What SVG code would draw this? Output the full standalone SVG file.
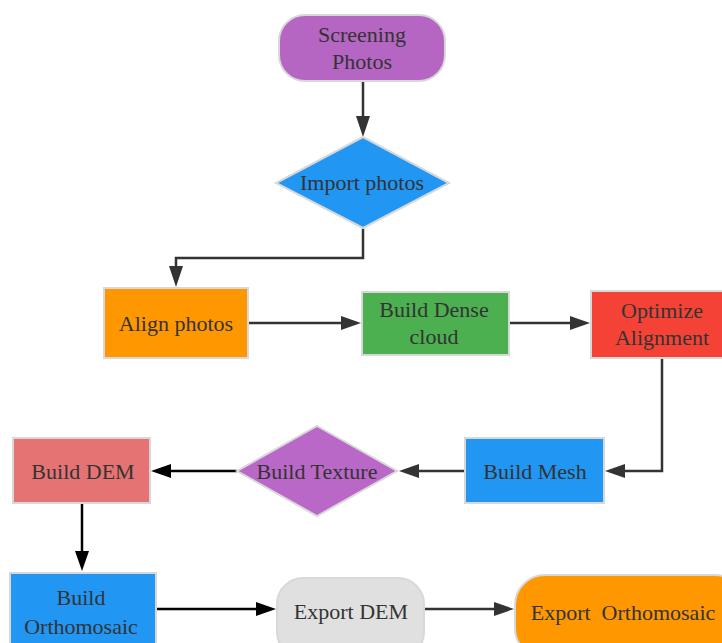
<svg xmlns="http://www.w3.org/2000/svg" width="722" height="643" viewBox="0 0 722 643">
<defs>
<style>
.n{stroke:#d8d8d8;stroke-width:2}
.t{font-size:22px;fill:#333;text-anchor:middle}
.c{fill:none;stroke:#333;stroke-width:2.5}
.k{fill:none;stroke:#000;stroke-width:2.5}
</style>
</defs>
<rect width="722" height="643" fill="#fff"/>
<g id="connectors">
<path class="c" d="M363,82V118"/>
<path class="c" d="M363,228V258H176V268"/>
<path class="c" d="M248,323H342"/>
<path class="c" d="M509,323H571"/>
<path class="c" d="M662,358V471H624"/>
<path class="c" d="M465,471H418"/>
<path class="k" d="M237,471H170"/>
<path class="k" d="M82,503V552"/>
<path class="k" d="M156,609H257"/>
<path class="c" d="M424,609H495"/>
<path d="M356,116L370,116L363,137z" fill="#333"/>
<path d="M169,266L183,266L176,287z" fill="#333"/>
<path d="M341,316L341,330L361,323z" fill="#333"/>
<path d="M570,316L570,330L590,323z" fill="#333"/>
<path d="M625,464L625,478L605,471z" fill="#333"/>
<path d="M419,464L419,478L399,471z" fill="#333"/>
<path d="M171,464L171,478L151,471z" fill="#000"/>
<path d="M75,551L89,551L82,571z" fill="#000"/>
<path d="M256,602L256,616L276,609z" fill="#000"/>
<path d="M494,602L494,616L514,609z" fill="#333"/>
</g>
<g id="screening">
<rect class="n" x="279" y="15" width="166" height="66" rx="26" fill="#B565C2"/>
<text class="t" font-family="Liberation Serif" x="362" y="42">Screening</text>
<text class="t" font-family="Liberation Serif" x="362" y="69">Photos</text>
</g>
<g id="import">
<polygon class="n" points="363,137 449,183 363,228 276,183" fill="#2196F3"/>
<text class="t" font-family="Liberation Serif" x="362" y="190">Import photos</text>
</g>
<g id="align">
<rect class="n" x="104" y="288" width="144" height="70" fill="#FF9800"/>
<text class="t" font-family="Liberation Serif" x="176" y="331">Align photos</text>
</g>
<g id="dense">
<rect class="n" x="362" y="292" width="147" height="63" fill="#4CAF50"/>
<text class="t" font-family="Liberation Serif" x="434" y="317">Build Dense</text>
<text class="t" font-family="Liberation Serif" x="434" y="344">cloud</text>
</g>
<g id="optimize">
<rect class="n" x="591" y="291" width="142" height="67" fill="#F44336"/>
<text class="t" font-family="Liberation Serif" x="662" y="318">Optimize</text>
<text class="t" font-family="Liberation Serif" x="662" y="345">Alignment</text>
</g>
<g id="mesh">
<rect class="n" x="465" y="438" width="139" height="65" fill="#2196F3"/>
<text class="t" font-family="Liberation Serif" x="535" y="479">Build Mesh</text>
</g>
<g id="texture">
<polygon class="n" points="317,426 397,471 317,516 237,471" fill="#BA68C8"/>
<text class="t" font-family="Liberation Serif" x="317" y="479">Build Texture</text>
</g>
<g id="dem">
<rect class="n" x="13" y="438" width="137" height="65" fill="#E57373"/>
<text class="t" font-family="Liberation Serif" x="83" y="479">Build DEM</text>
</g>
<g id="ortho">
<rect class="n" x="10" y="573" width="146" height="80" fill="#2196F3"/>
<text class="t" font-family="Liberation Serif" x="81" y="605">Build</text>
<text class="t" font-family="Liberation Serif" x="81" y="634">Orthomosaic</text>
</g>
<g id="exportdem">
<rect class="n" x="277" y="578" width="147" height="80" rx="26" fill="#E0E0E0"/>
<text class="t" font-family="Liberation Serif" x="351" y="619">Export DEM</text>
</g>
<g id="exportortho">
<rect class="n" x="515" y="575" width="230" height="83" rx="30" fill="#FF9800"/>
<text class="t" font-family="Liberation Serif" x="623" y="620" xml:space="preserve">Export  Orthomosaic</text>
</g>
</svg>
